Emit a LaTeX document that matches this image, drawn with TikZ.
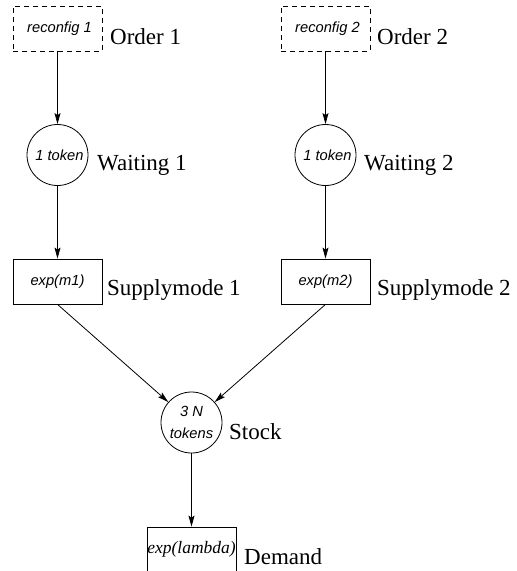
\documentclass[tikz,border=0pt]{standalone}
\usepackage{fontspec}
\setmainfont{Liberation Serif}
\setsansfont{Liberation Sans}
\usetikzlibrary{arrows.meta}
\begin{document}
\begin{tikzpicture}[x=1pt,y=-1pt,
  inner/.style={font=\sffamily\itshape\fontsize{14.7}{22}\selectfont},
  trans/.style={draw, line width=0.8pt, rectangle, minimum width=89pt, minimum height=45pt, inner sep=0pt, inner, align=center},
  dtrans/.style={trans, dashed, dash pattern=on 5pt off 4pt},
  place/.style={draw, line width=0.8pt, circle, minimum size=61pt, inner sep=0pt, inner, align=center},
  lbl/.style={anchor=base west, inner sep=0pt, font=\fontsize{23}{27}\selectfont},
  arc/.style={line width=0.8pt, -{Stealth[length=11pt,width=6pt,inset=2pt]}},
  plain/.style={line width=0.8pt, -{Stealth[length=11pt,width=6pt,inset=2pt]}}]
\useasboundingbox (0,0) rectangle (517,571);
\clip (0,0) rectangle (517,571);
\node[dtrans] (r1) at (57.5,28.5) {\hspace*{4pt}reconfig 1};
\node[dtrans] (r2) at (325.5,28.5) {\hspace*{4pt}reconfig 2};
\node[place] (w1) at (57.5,155) {\hspace*{4pt}1 token};
\node[place] (w2) at (325.5,155) {\hspace*{4pt}1 token};
\node[trans] (s1) at (57.5,281.5) {exp(m1)};
\node[trans] (s2) at (325.5,281.5) {exp(m2)};
\node[place] (st) at (191.5,422.5) {3 N\\tokens};
\node[trans, font=\rmfamily\itshape\fontsize{17.5}{20}\selectfont] (d) at (191.5,549.5) {\raisebox{-4pt}{exp(lambda)}};
\node[lbl] (l1) at (110,44) {Order 1};
\node[lbl] (l2) at (377,44) {Order 2};
\node[lbl] (l3) at (97,170) {Waiting 1};
\node[lbl] (l4) at (364,170) {Waiting 2};
\node[lbl] (l5) at (107,295) {Supplymode 1};
\node[lbl] (l6) at (377,295) {Supplymode 2};
\node[lbl] (l7) at (229,439) {Stock};
\node[lbl] (l8) at (244,564) {Demand};
\draw[arc] (r1) -- (w1);
\draw[arc] (r2) -- (w2);
\draw[arc] (w1) -- (s1);
\draw[arc] (w2) -- (s2);
\draw[arc] (s1.south) -- (st);
\draw[arc] (s2.south) -- (st);
\draw[arc] (st) -- (d);
\end{tikzpicture}
\end{document}
